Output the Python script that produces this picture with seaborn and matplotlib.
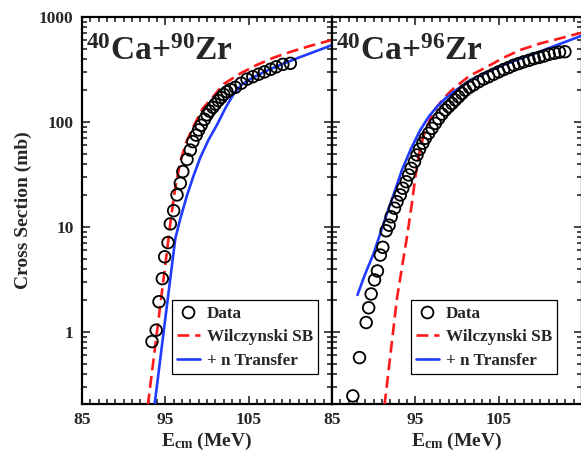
import numpy as np
import pandas as pd
import matplotlib
matplotlib.use("Agg")
import matplotlib.pyplot as plt
import seaborn as sns
from matplotlib.lines import Line2D
from matplotlib.ticker import MultipleLocator, FixedLocator, FixedFormatter, LogLocator, NullFormatter

# ---------------- data: 40Ca + 90Zr ----------------
zr90_data_E = [93.4, 93.9, 94.24, 94.64, 94.92, 95.32, 95.6, 96.0, 96.4, 96.8, 97.1, 97.6,
               98.0, 98.3, 98.7, 99.0, 99.3, 99.7, 100.0, 100.3, 100.7, 101.0, 101.35,
               101.7, 102.0, 102.4, 102.8, 103.4, 104.1, 104.8, 105.5, 106.2, 106.9,
               107.65, 108.3, 109.1, 110.0]
zr90_data_sig = [0.81, 1.04, 1.94, 3.22, 5.2, 7.1, 10.7, 14.3, 20.2, 26.1, 33.7, 44.0,
                 54, 65, 75, 84, 93, 106, 117, 127, 138, 148, 160,
                 171, 183, 194, 204, 214, 234, 256, 270, 285, 300,
                 318, 335, 354, 362]
zr90_sb_E = [92.9, 94.0, 95.0, 95.65, 96.2, 96.8, 97.5, 98.5, 99.5, 100.5, 102.0,
             104.0, 106.0, 108.0, 110.0, 112.0, 115.0]
zr90_sb_sig = [0.2, 1.0, 4.4, 11.7, 24, 42, 64, 95, 135, 165, 230,
               290, 350, 410, 465, 520, 605]
zr90_nt_E = [93.7, 95.0, 96.2, 96.8, 97.6, 98.4, 99.2, 100.2, 101.2, 102.2, 103.2,
             104.2, 105.5, 107.25, 109.0, 111.0, 113.0, 115.0]
zr90_nt_sig = [0.2, 1.35, 7.8, 12, 20, 31, 46, 68, 94, 135, 185,
               228, 265, 310, 355, 410, 470, 540]

# ---------------- data: 40Ca + 96Zr ----------------
zr96_data_E = [87.5, 88.3, 89.1, 89.4, 89.7, 90.1, 90.45, 90.8, 91.1, 91.5, 91.85,
               92.1, 92.5, 92.8, 93.2, 93.5, 93.9, 94.2, 94.5, 94.9, 95.2, 95.5,
               95.9, 96.2, 96.6, 97.0, 97.4, 97.8, 98.2, 98.6, 99.0, 99.4, 99.8,
               100.2, 100.6, 101.0, 101.5, 102.0, 102.6, 103.2, 103.8, 104.4, 105.0,
               105.6, 106.2, 106.8, 107.4, 108.0, 108.65, 109.25, 109.85, 110.45,
               111.05, 111.7, 112.3, 112.95]
zr96_data_sig = [0.246, 0.57, 1.23, 1.70, 2.30, 3.13, 3.81, 5.4, 6.4, 9.2, 10.4,
                 12.5, 15.1, 17.4, 20.2, 23.4, 27.0, 31.3, 36.2, 41.9, 48.5, 55,
                 62.9, 70, 78, 87, 97, 108, 119, 130, 140, 150, 162,
                 174, 187, 201, 214, 226, 242, 257, 270, 285, 300,
                 316, 330, 347, 360, 374, 387, 402, 412, 425,
                 442, 452, 463, 467]
zr96_sb_E = [91.3, 92.8, 94.0, 94.6, 95.0, 95.5, 96.0, 96.8, 97.6, 98.6, 99.6,
             101.5, 103.6, 105.6, 107.65, 110.0, 112.5, 115.0]
zr96_sb_sig = [0.2, 2.1, 8.1, 17, 30, 52, 75, 108, 140, 175, 209,
               275, 335, 410, 487, 560, 630, 710]
zr96_nt_E = [88.05, 89.0, 90.0, 91.0, 91.6, 92.5, 93.4, 94.5, 95.6, 96.6, 97.6,
             98.6, 99.6, 101.5, 103.6, 105.6, 107.65, 110.0, 112.5, 115.0]
zr96_nt_sig = [2.25, 3.6, 5.6, 9.7, 13.5, 21.5, 35, 56, 84, 112, 140,
               168, 194, 248, 300, 350, 402, 470, 560, 665]

titles = [r"$^{40}$Ca+$^{90}$Zr", r"$^{40}$Ca+$^{96}$Zr"]
legend_labels = ["Data", "Wilczynski SB", "+ n Transfer"]
ytick_vals = [1, 10, 100, 1000]
ytick_labels = ["1", "10", "100", "1000"]
xtick_vals = [85, 95, 105]
xtick_labels = ["85", "95", "105"]

RED = "#ff1a1a"
BLUE = "#1f3cff"

sns.set_style("ticks")
plt.rcParams["font.family"] = ["Liberation Serif", "DejaVu Serif"]
plt.rcParams["font.weight"] = "bold"
plt.rcParams["axes.labelweight"] = "bold"
plt.rcParams["mathtext.fontset"] = "custom"
plt.rcParams["mathtext.rm"] = "Liberation Serif:bold"
plt.rcParams["mathtext.it"] = "Liberation Serif:bold"
plt.rcParams["mathtext.bf"] = "Liberation Serif:bold"

W, H = 581, 459
fig = plt.figure(figsize=(W / 100, H / 100), dpi=100)
ax1 = fig.add_axes([82 / W, 55 / H, 250 / W, 387 / H])
ax2 = fig.add_axes([332 / W, 55 / H, 250 / W, 387 / H])

panels = [
    (ax1, zr90_data_E, zr90_data_sig, zr90_sb_E, zr90_sb_sig, zr90_nt_E, zr90_nt_sig, 0.944),
    (ax2, zr96_data_E, zr96_data_sig, zr96_sb_E, zr96_sb_sig, zr96_nt_E, zr96_nt_sig, 0.900),
]

for i, (ax, dE, ds, sE, ss, nE, ns, lx) in enumerate(panels):
    df_d = pd.DataFrame({"E": dE, "sigma": ds})
    df_s = pd.DataFrame({"E": sE, "sigma": ss})
    df_n = pd.DataFrame({"E": nE, "sigma": ns})
    sns.lineplot(data=df_s, x="E", y="sigma", ax=ax, color=RED, lw=1.9, zorder=3)
    ax.lines[-1].set_dashes([4.5, 2.2])
    sns.lineplot(data=df_n, x="E", y="sigma", ax=ax, color=BLUE, lw=1.9, zorder=3)
    sns.scatterplot(data=df_d, x="E", y="sigma", ax=ax, marker="o", s=70, zorder=4)
    coll = ax.collections[-1]
    coll.set_facecolor("none")
    coll.set_edgecolor("black")
    coll.set_linewidth(1.3)

    ax.set_yscale("log")
    ax.set_xlim(85, 115)
    ax.set_ylim(0.206, 1000)
    ax.xaxis.set_major_locator(FixedLocator(xtick_vals))
    ax.xaxis.set_major_formatter(FixedFormatter(xtick_labels))
    ax.xaxis.set_minor_locator(MultipleLocator(1))
    ax.yaxis.set_major_locator(FixedLocator(ytick_vals))
    ax.yaxis.set_minor_locator(LogLocator(base=10, subs=np.arange(2, 10)))
    ax.yaxis.set_minor_formatter(NullFormatter())
    if i == 0:
        ax.yaxis.set_major_formatter(FixedFormatter(ytick_labels))
        ax.set_ylabel("Cross Section (mb)", fontsize=14, fontweight="bold", labelpad=5)
    else:
        ax.yaxis.set_major_formatter(NullFormatter())
        ax.set_ylabel("")
    ax.tick_params(which="both", direction="in", top=True, right=True,
                   labelsize=12.5, width=1.2, pad=6)
    ax.tick_params(which="major", length=6)
    ax.tick_params(which="minor", length=3.5)
    for sp in ax.spines.values():
        sp.set_linewidth(1.6)
        sp.set_color("black")
    ax.set_xlabel(r"E$_{\mathrm{cm}}$ (MeV)", fontsize=14, fontweight="bold", labelpad=2)

    ax.text(0.018, 0.95, titles[i], transform=ax.transAxes, ha="left", va="top",
            fontsize=24, fontweight="bold")

    handles = [
        Line2D([], [], marker="o", ls="none", mfc="none", mec="black", ms=8.5, mew=1.3),
        Line2D([], [], color=RED, lw=1.9, dashes=[4.5, 2.2]),
        Line2D([], [], color=BLUE, lw=1.9),
    ]
    leg = ax.legend(handles, legend_labels, loc="lower right", bbox_to_anchor=(lx, 0.0775),
                    fontsize=12.3, frameon=True, fancybox=False, framealpha=1,
                    edgecolor="black", handlelength=1.35, handletextpad=0.4,
                    labelspacing=0.45, borderpad=0.3, borderaxespad=0)
    leg.get_frame().set_linewidth(0.9)

fig.savefig("out.png", dpi=100)
